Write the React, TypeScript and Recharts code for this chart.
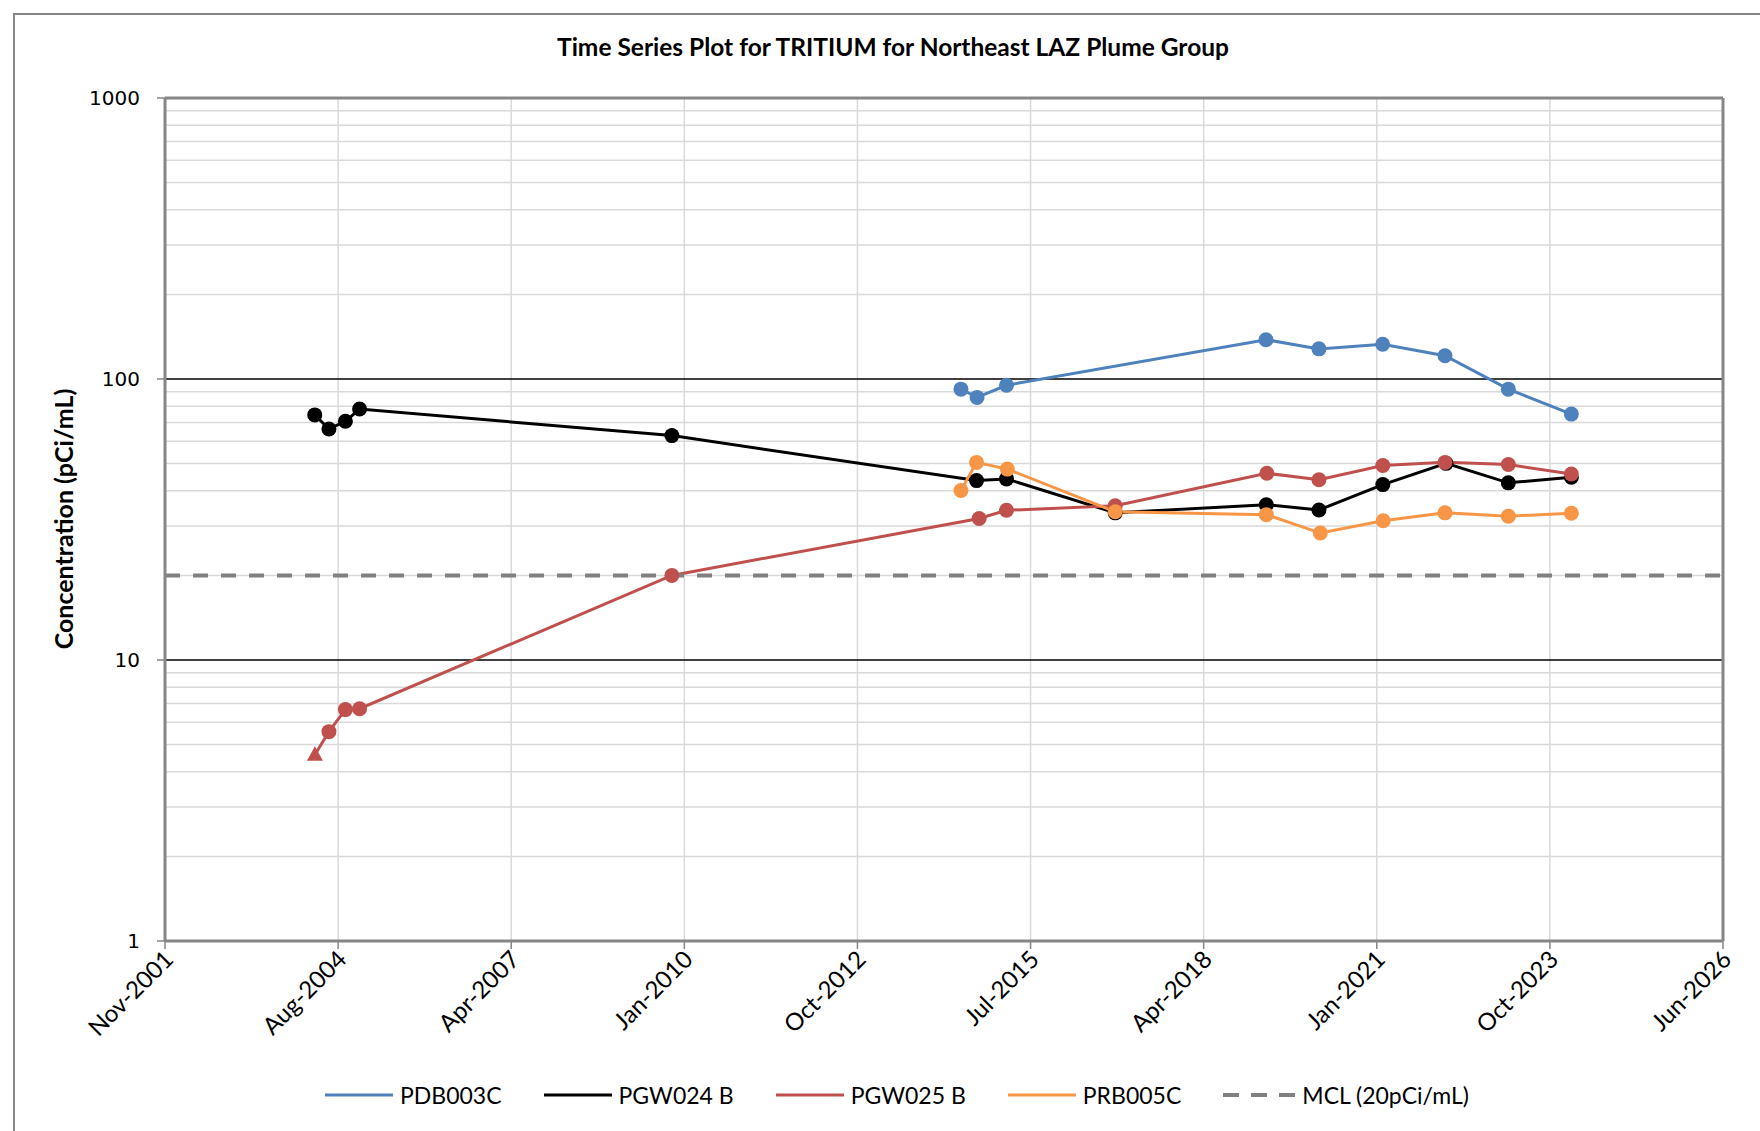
import React from 'react';
import { LineChart, Line, XAxis, YAxis, CartesianGrid, ReferenceLine } from 'recharts';

// Excel-style date axis: serial day numbers, 1000-day major unit
const xTicks = [37200, 38200, 39200, 40200, 41200, 42200, 43200, 44200, 45200, 46200];
const xTickLabels = ['Nov-2001', 'Aug-2004', 'Apr-2007', 'Jan-2010', 'Oct-2012', 'Jul-2015', 'Apr-2018', 'Jan-2021', 'Oct-2023', 'Jun-2026'];

const yTicks = [1, 10, 100, 1000];
const yMinorGrid = [2, 3, 4, 5, 6, 7, 8, 9, 20, 30, 40, 50, 60, 70, 80, 90, 200, 300, 400, 500, 600, 700, 800, 900];
const yMajorGrid = [10, 100];

const pdb003cDates = ['2014-06-08', '2014-09-09', '2015-02-26', '2019-04-05', '2020-02-05', '2021-02-07', '2022-02-02', '2023-02-03', '2024-02-02'];
const pdb003cValues = [92, 86, 95, 138, 128, 133, 121, 92, 75];

const pgw024bDates = ['2004-03-19', '2004-06-09', '2004-09-12', '2004-12-03', '2009-11-11', '2014-09-06', '2015-02-26', '2016-11-15', '2019-04-07', '2020-02-05', '2021-02-08', '2022-02-08', '2023-02-03', '2024-02-02'];
const pgw024bValues = [74.5, 66.4, 70.7, 78.2, 62.9, 43.5, 44.1, 33.4, 35.7, 34.2, 42.1, 50.1, 42.7, 44.7];

const pgw025bDates = ['2004-03-20', '2004-06-09', '2004-09-12', '2004-12-03', '2009-11-11', '2014-09-21', '2015-02-26', '2016-11-15', '2019-04-10', '2020-02-05', '2021-02-08', '2022-02-02', '2023-02-03', '2024-02-02'];
const pgw025bValues = [4.6, 5.56, 6.66, 6.71, 20, 31.9, 34.1, 35.4, 46.2, 43.8, 49.2, 50.5, 49.6, 45.9];
const pgw025bNonDetect = ['2004-03-20'];

const prb005cDates = ['2014-06-08', '2014-09-06', '2015-03-03', '2016-11-15', '2019-04-07', '2020-02-13', '2021-02-10', '2022-02-02', '2023-02-03', '2024-02-02'];
const prb005cValues = [40.1, 50.5, 47.8, 33.7, 32.9, 28.3, 31.3, 33.4, 32.5, 33.3];

const mclSerials = [37200, 46200];
const mclValues = [20, 20];

const toSerial = (iso: string) => {
  const [y, m, d] = iso.split('-').map(Number);
  return (Date.UTC(y, m - 1, d) - Date.UTC(1899, 11, 30)) / 86400000;
};

const zip = (dates: string[], values: number[], nd: string[] = []) =>
  dates.map((d, i) => ({ x: toSerial(d), v: values[i], nd: nd.includes(d) }));

const pdb003c = zip(pdb003cDates, pdb003cValues);
const pgw024b = zip(pgw024bDates, pgw024bValues);
const pgw025b = zip(pgw025bDates, pgw025bValues, pgw025bNonDetect);
const prb005c = zip(prb005cDates, prb005cValues);
const mcl = mclSerials.map((x, i) => ({ x, v: mclValues[i] }));

const BLUE = '#4F81BD';
const BLACK = '#000000';
const RED = '#C0504D';
const ORANGE = '#F79646';
const GREY = '#808080';
const AXIS = '#868686';

const FONT = 'Lato, "Open Sans", sans-serif';

const markerFor = (color: string, name: string) => (props: any) => {
  const { cx, cy, index, payload } = props;
  if (cx == null || cy == null) return <g key={`${name}-${index}`} />;
  if (payload && payload.nd) {
    return (
      <polygon
        key={`${name}-${index}`}
        points={`${cx},${cy - 8.5} ${cx - 8},${cy + 6} ${cx + 8},${cy + 6}`}
        fill={color}
      />
    );
  }
  return <circle key={`${name}-${index}`} cx={cx} cy={cy} r={7.5} fill={color} stroke="none" />;
};

const DateTick = (props: any) => {
  const { x, y, index } = props;
  const px = x + 4;
  const py = y + 4;
  return (
    <text
      x={px}
      y={py}
      dy="0.35em"
      textAnchor="end"
      transform={`rotate(-45 ${px} ${py})`}
      fontFamily={FONT}
      fontSize={24}
      fill="#000"
    >
      {xTickLabels[index]}
    </text>
  );
};

const legendItems = [
  { name: 'PDB003C', color: BLUE, dashed: false },
  { name: 'PGW024 B', color: BLACK, dashed: false },
  { name: 'PGW025 B', color: RED, dashed: false },
  { name: 'PRB005C', color: ORANGE, dashed: false },
  { name: 'MCL (20pCi/mL)', color: GREY, dashed: true },
];

export default function App() {
  return (
    <div
      style={{
        position: 'fixed',
        left: 0,
        top: 0,
        width: 1760,
        height: 1131,
        background: '#fff',
        overflow: 'hidden',
      }}
    >
      <div
        style={{
          position: 'absolute',
          left: 13,
          top: 13,
          width: 1800,
          height: 1200,
          borderLeft: `2px solid ${AXIS}`,
          borderTop: `2px solid ${AXIS}`,
        }}
      />
      <div
        style={{
          position: 'absolute',
          left: 893,
          top: 33,
          transform: 'translateX(-50%)',
          whiteSpace: 'nowrap',
          fontFamily: FONT,
          fontWeight: 700,
          fontSize: 24.5,
          lineHeight: '28px',
        }}
      >
        Time Series Plot for TRITIUM for Northeast LAZ Plume Group
      </div>
      <div
        style={{
          position: 'absolute',
          left: 63,
          top: 519,
          transform: 'translate(-50%, -50%) rotate(-90deg)',
          whiteSpace: 'nowrap',
          fontFamily: FONT,
          fontWeight: 700,
          fontSize: 25,
          lineHeight: '28px',
        }}
      >
        Concentration (pCi/mL)
      </div>
      <div style={{ position: 'absolute', left: 0, top: 0 }}>
        <LineChart width={1760} height={1131} margin={{ top: 98, right: 37, bottom: 80, left: 85 }}>
          <CartesianGrid
            stroke="#D9D9D9"
            strokeWidth={1.5}
            horizontalValues={yMinorGrid}
            verticalValues={xTicks}
          />
          <CartesianGrid stroke="#000" strokeWidth={1.5} vertical={false} horizontalValues={yMajorGrid} />
          <XAxis
            type="number"
            dataKey="x"
            domain={[37200, 46200]}
            ticks={xTicks}
            interval={0}
            height={110}
            tickSize={8}
            tick={<DateTick />}
            axisLine={{ stroke: AXIS, strokeWidth: 3 }}
            tickLine={{ stroke: AXIS, strokeWidth: 1.5 }}
            allowDataOverflow
          />
          <YAxis
            scale="log"
            domain={[1, 1000]}
            ticks={yTicks}
            interval={0}
            width={80}
            tickSize={8}
            tickMargin={17}
            tick={{ fontFamily: '"DejaVu Sans", sans-serif', fontSize: 20, fill: '#000' }}
            axisLine={{ stroke: AXIS, strokeWidth: 3 }}
            tickLine={{ stroke: AXIS, strokeWidth: 1.5 }}
            allowDataOverflow
          />
          <ReferenceLine y={1000} stroke={AXIS} strokeWidth={3} />
          <ReferenceLine x={46200} stroke={AXIS} strokeWidth={3} />
          <Line
            data={pdb003c}
            dataKey="v"
            name="PDB003C"
            stroke={BLUE}
            strokeWidth={3}
            dot={markerFor(BLUE, 'pdb')}
            activeDot={false}
            isAnimationActive={false}
          />
          <Line
            data={pgw024b}
            dataKey="v"
            name="PGW024 B"
            stroke={BLACK}
            strokeWidth={3}
            dot={markerFor(BLACK, 'pgw024')}
            activeDot={false}
            isAnimationActive={false}
          />
          <Line
            data={pgw025b}
            dataKey="v"
            name="PGW025 B"
            stroke={RED}
            strokeWidth={3}
            dot={markerFor(RED, 'pgw025')}
            activeDot={false}
            isAnimationActive={false}
          />
          <Line
            data={prb005c}
            dataKey="v"
            name="PRB005C"
            stroke={ORANGE}
            strokeWidth={3}
            dot={markerFor(ORANGE, 'prb')}
            activeDot={false}
            isAnimationActive={false}
          />
          <Line
            data={mcl}
            dataKey="v"
            name="MCL (20pCi/mL)"
            stroke={GREY}
            strokeWidth={4}
            strokeDasharray="15 13"
            dot={false}
            activeDot={false}
            isAnimationActive={false}
          />
        </LineChart>
      </div>
      <div
        style={{
          position: 'absolute',
          left: 325,
          top: 1080,
          display: 'flex',
          alignItems: 'center',
          fontFamily: FONT,
          fontSize: 23,
          lineHeight: '30px',
          whiteSpace: 'nowrap',
        }}
      >
        {legendItems.map((it) => (
          <div key={it.name} style={{ display: 'flex', alignItems: 'center', marginRight: 42 }}>
            <svg width={it.dashed ? 72 : 68} height={10}>
              <line
                x1={0}
                y1={5}
                x2={it.dashed ? 72 : 68}
                y2={5}
                stroke={it.color}
                strokeWidth={it.dashed ? 4 : 3}
                strokeDasharray={it.dashed ? '16 12' : undefined}
              />
            </svg>
            <span style={{ marginLeft: 7 }}>{it.name}</span>
          </div>
        ))}
      </div>
    </div>
  );
}
